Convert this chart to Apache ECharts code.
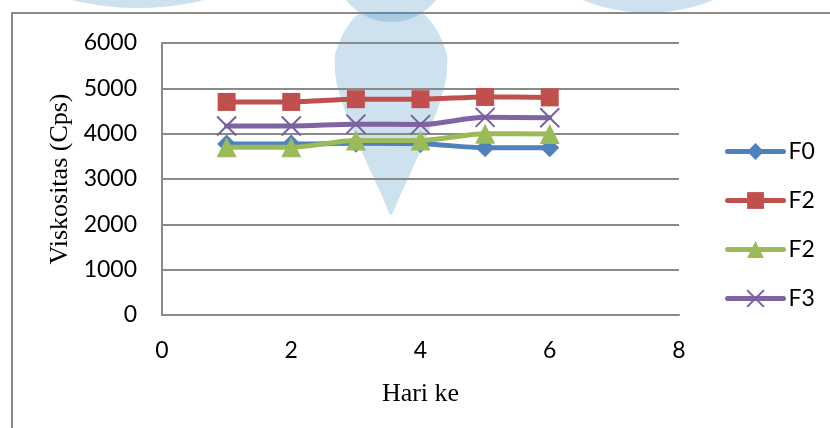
<!DOCTYPE html>
<html>
<head>
<meta charset="utf-8">
<script src="https://cdn.jsdelivr.net/npm/echarts@6/dist/echarts.min.js"></script>
<style>
  html, body { margin: 0; padding: 0; background: #fff; }
  #chart { width: 830px; height: 428px; }
</style>
</head>
<body>
<div id="chart"></div>
<script>
// Viscosity measurements per day
const days = [1, 2, 3, 4, 5, 6];
const seriesNames = ['F0', 'F2', 'F2\u200b', 'F3'];
const f0 = [3770, 3770, 3790, 3780, 3690, 3690];
const f2a = [4700, 4700, 4760, 4760, 4810, 4800];
const f2b = [3700, 3700, 3850, 3850, 4000, 3990];
const f3 = [4170, 4170, 4210, 4200, 4360, 4350];
const yTicks = { min: 0, max: 6000, step: 1000 };
const xTicks = { min: 0, max: 8, step: 2 };

const colors = ['#4f81bd', '#c0504d', '#9bbb59', '#8064a2'];
const symbols = ['diamond', 'rect', 'triangle', 'path://M0,0L10,10M10,0L0,10'];
const symbolSizes = [19, 18, 20, 19];
const values = [f0, f2a, f2b, f3];

const tickFont = 'Lato, "Open Sans", sans-serif';
const serifFont = '"Liberation Serif", "DejaVu Serif", serif';

function pairs(xs, ys) { return xs.map((x, i) => [x, ys[i]]); }

const series = values.map((vals, i) => {
  const isCross = i === 3;
  return {
    name: seriesNames[i],
    type: 'line',
    data: pairs(days, vals),
    smooth: 0.3,
    symbol: symbols[i],
    symbolSize: symbolSizes[i],
    showAllSymbol: true,
    lineStyle: { color: colors[i], width: 5, cap: 'round', join: 'round' },
    itemStyle: isCross
      ? { color: 'rgba(0,0,0,0)', borderColor: '#7a5ea0', borderWidth: 2 }
      : { color: colors[i], borderColor: colors[i], borderWidth: 0 },
    emphasis: { disabled: true },
    z: 2 + i
  };
});

const chart = echarts.init(document.getElementById('chart'), null, { renderer: 'canvas' });

const wash = 'rgba(60,140,195,0.26)';

// background emblem: two discs at the top edge and a drop shape in the middle
const dropOutline = [
  [359, 14], [344, 32], [335, 55], [336, 80], [344, 108], [356, 138],
  [370, 170], [382, 196], [391, 215], [400, 196], [412, 170], [426, 138],
  [438, 108], [446, 80], [447, 55], [438, 32], [423, 14]
];

chart.setOption({
  animation: false,
  backgroundColor: '#fff',
  grid: { left: 162, right: 151, top: 43, bottom: 113 },
  xAxis: {
    type: 'value',
    min: xTicks.min, max: xTicks.max, interval: xTicks.step,
    name: 'Hari ke',
    nameLocation: 'middle',
    nameGap: 66,
    nameTextStyle: { fontFamily: serifFont, fontSize: 26, color: '#000' },
    axisLine: { show: true, onZero: false, lineStyle: { color: '#8a8a8a', width: 2 } },
    axisTick: { show: false },
    splitLine: { show: false },
    axisLabel: { fontFamily: tickFont, fontSize: 23, color: '#000', margin: 24 }
  },
  yAxis: {
    type: 'value',
    min: yTicks.min, max: yTicks.max, interval: yTicks.step,
    name: 'Viskositas (Cps)',
    nameLocation: 'middle',
    nameGap: 80,
    nameTextStyle: { fontFamily: serifFont, fontSize: 26, color: '#000' },
    axisLine: { show: true, lineStyle: { color: '#8a8a8a', width: 2 } },
    axisTick: { show: false },
    splitLine: { show: true, lineStyle: { color: '#8a8a8a', width: 2 } },
    axisLabel: {
      fontFamily: tickFont, fontSize: 23, color: '#000', margin: 25,
      formatter: (v) => String(v)
    }
  },
  legend: {
    orient: 'vertical',
    left: 720,
    top: 135,
    itemWidth: 56,
    itemHeight: 21,
    itemGap: 26,
    selectedMode: false,
    data: seriesNames,
    lineStyle: { width: 5, cap: 'round' },
    textStyle: { fontFamily: tickFont, fontSize: 23, color: '#000' }
  },
  series: series,
  graphic: [
    {
      type: 'rect',
      z: 0,
      silent: true,
      shape: { x: 12, y: 13, width: 900, height: 500 },
      style: { fill: 'none', stroke: '#8a8a8a', lineWidth: 2 }
    },
    {
      type: 'group',
      z: 100,
      silent: true,
      children: [
        { type: 'circle', shape: { cx: 138, cy: -268, r: 276 }, style: { fill: wash } },
        { type: 'circle', shape: { cx: 648, cy: -156, r: 169 }, style: { fill: wash } },
        { type: 'circle', shape: { cx: 391, cy: -35, r: 57 }, style: { fill: wash } },
        { type: 'polygon', shape: { points: dropOutline, smooth: 0.2 }, style: { fill: wash } }
      ]
    }
  ]
});
</script>
</body>
</html>
